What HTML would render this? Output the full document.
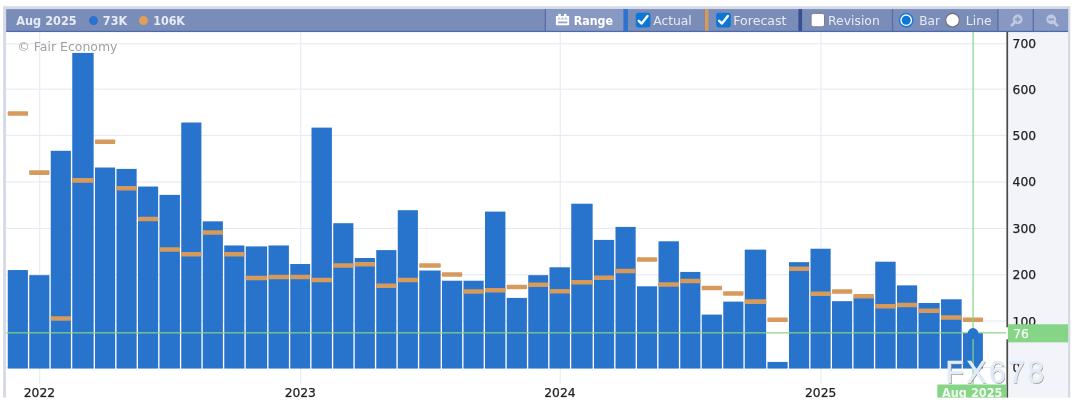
<!DOCTYPE html>
<html lang="en"><head><meta charset="utf-8"><title>Non-Farm Employment Change chart</title>
<style>html,body{margin:0;padding:0;background:#fff;}body{width:1075px;height:408px;overflow:hidden;position:relative;}svg{position:absolute;left:0;top:0;display:block;}text{font-family:"DejaVu Sans", "Liberation Sans", sans-serif;font-size:12px;}.b{font-weight:bold;}.ax{font-size:12.3px;stroke:#222;stroke-width:0.25px;}.wm{font-family:"Liberation Sans",sans-serif;font-size:30px;letter-spacing:2.55px;}</style></head><body>
<svg width="1075" height="408" viewBox="0 0 1075 408">
<rect x="3.1" y="6.2" width="1067.2" height="395" fill="#d6dae7"/>
<rect x="6.1" y="9.5" width="1001" height="392" fill="#ffffff"/>
<rect x="1007.5" y="31" width="60.5" height="370" fill="#f3f4f9"/>
<rect x="6.1" y="43.25" width="1000.4" height="1.1" fill="#e7eaf4"/>
<rect x="6.1" y="88.55" width="1000.4" height="1.1" fill="#e7eaf4"/>
<rect x="6.1" y="134.85" width="1000.4" height="1.1" fill="#e7eaf4"/>
<rect x="6.1" y="181.40" width="1000.4" height="1.1" fill="#e7eaf4"/>
<rect x="6.1" y="227.85" width="1000.4" height="1.1" fill="#e7eaf4"/>
<rect x="6.1" y="274.15" width="1000.4" height="1.1" fill="#e7eaf4"/>
<rect x="6.1" y="320.45" width="1000.4" height="1.1" fill="#e7eaf4"/>
<rect x="6.1" y="367.05" width="1000.4" height="1.1" fill="#e7eaf4"/>
<rect x="39.15" y="31.5" width="1.1" height="352.5" fill="#e7eaf4"/>
<rect x="300.20" y="31.5" width="1.1" height="352.5" fill="#e7eaf4"/>
<rect x="559.70" y="31.5" width="1.1" height="352.5" fill="#e7eaf4"/>
<rect x="820.45" y="31.5" width="1.1" height="352.5" fill="#e7eaf4"/>
<text x="17.3" y="51.3" fill="#a0a0a0" textLength="100.2" lengthAdjust="spacingAndGlyphs">© Fair Economy</text>
<rect x="7.75" y="270.06" width="20.15" height="98.49" fill="#2873cc"/>
<rect x="29.25" y="275.16" width="20.15" height="93.39" fill="#2873cc"/>
<rect x="50.75" y="150.81" width="20.15" height="217.74" fill="#2873cc"/>
<rect x="72.25" y="52.91" width="21.40" height="315.64" fill="#2873cc"/>
<rect x="95.00" y="167.52" width="20.15" height="201.03" fill="#2873cc"/>
<rect x="116.50" y="168.91" width="20.15" height="199.64" fill="#2873cc"/>
<rect x="138.00" y="186.54" width="20.15" height="182.01" fill="#2873cc"/>
<rect x="159.50" y="194.89" width="20.40" height="173.66" fill="#2873cc"/>
<rect x="181.25" y="122.51" width="20.15" height="246.04" fill="#2873cc"/>
<rect x="202.75" y="221.34" width="20.15" height="147.21" fill="#2873cc"/>
<rect x="224.25" y="245.47" width="20.15" height="123.08" fill="#2873cc"/>
<rect x="245.75" y="246.40" width="21.40" height="122.15" fill="#2873cc"/>
<rect x="268.50" y="245.47" width="20.40" height="123.08" fill="#2873cc"/>
<rect x="290.25" y="264.03" width="19.90" height="104.52" fill="#2873cc"/>
<rect x="311.50" y="127.61" width="20.40" height="240.94" fill="#2873cc"/>
<rect x="333.25" y="223.20" width="20.15" height="145.35" fill="#2873cc"/>
<rect x="354.75" y="258.00" width="20.15" height="110.55" fill="#2873cc"/>
<rect x="376.25" y="250.11" width="20.15" height="118.44" fill="#2873cc"/>
<rect x="397.75" y="210.20" width="20.15" height="158.35" fill="#2873cc"/>
<rect x="419.25" y="270.52" width="21.40" height="98.03" fill="#2873cc"/>
<rect x="442.00" y="280.73" width="20.15" height="87.82" fill="#2873cc"/>
<rect x="463.50" y="280.73" width="20.15" height="87.82" fill="#2873cc"/>
<rect x="485.00" y="211.60" width="20.40" height="156.95" fill="#2873cc"/>
<rect x="506.75" y="297.90" width="20.15" height="70.65" fill="#2873cc"/>
<rect x="528.25" y="275.16" width="19.90" height="93.39" fill="#2873cc"/>
<rect x="549.50" y="267.28" width="20.40" height="101.27" fill="#2873cc"/>
<rect x="571.25" y="203.71" width="21.40" height="164.84" fill="#2873cc"/>
<rect x="594.00" y="239.90" width="20.15" height="128.65" fill="#2873cc"/>
<rect x="615.50" y="226.91" width="20.15" height="141.64" fill="#2873cc"/>
<rect x="637.00" y="286.30" width="20.15" height="82.25" fill="#2873cc"/>
<rect x="658.50" y="241.29" width="20.40" height="127.26" fill="#2873cc"/>
<rect x="680.25" y="271.92" width="20.15" height="96.63" fill="#2873cc"/>
<rect x="701.75" y="314.60" width="20.15" height="53.95" fill="#2873cc"/>
<rect x="723.25" y="301.61" width="20.15" height="66.94" fill="#2873cc"/>
<rect x="744.75" y="249.64" width="21.40" height="118.91" fill="#2873cc"/>
<rect x="767.50" y="361.93" width="20.15" height="6.62" fill="#2873cc"/>
<rect x="789.00" y="262.17" width="20.15" height="106.38" fill="#2873cc"/>
<rect x="810.50" y="248.72" width="20.15" height="119.83" fill="#2873cc"/>
<rect x="832.00" y="301.15" width="20.15" height="67.40" fill="#2873cc"/>
<rect x="853.50" y="297.44" width="20.40" height="71.11" fill="#2873cc"/>
<rect x="875.25" y="261.71" width="20.40" height="106.84" fill="#2873cc"/>
<rect x="897.00" y="285.37" width="20.15" height="83.18" fill="#2873cc"/>
<rect x="918.50" y="303.00" width="21.15" height="65.55" fill="#2873cc"/>
<rect x="941.00" y="299.29" width="20.65" height="69.26" fill="#2873cc"/>
<rect x="963.00" y="333.00" width="19.90" height="35.55" fill="#2873cc"/>
<rect x="7.65" y="111.20" width="20.35" height="4.6" rx="0.8" fill="#d69a5c"/>
<rect x="29.15" y="170.30" width="20.35" height="4.6" rx="0.8" fill="#d69a5c"/>
<rect x="50.65" y="316.25" width="20.35" height="4.6" rx="0.8" fill="#d69a5c"/>
<rect x="72.15" y="178.10" width="21.60" height="4.6" rx="0.8" fill="#d69a5c"/>
<rect x="94.90" y="139.50" width="20.35" height="4.6" rx="0.8" fill="#d69a5c"/>
<rect x="116.40" y="186.00" width="20.35" height="4.6" rx="0.8" fill="#d69a5c"/>
<rect x="137.90" y="216.75" width="20.35" height="4.6" rx="0.8" fill="#d69a5c"/>
<rect x="159.40" y="247.25" width="20.60" height="4.6" rx="0.8" fill="#d69a5c"/>
<rect x="181.15" y="252.00" width="20.35" height="4.6" rx="0.8" fill="#d69a5c"/>
<rect x="202.65" y="230.25" width="20.35" height="4.6" rx="0.8" fill="#d69a5c"/>
<rect x="224.15" y="252.00" width="20.35" height="4.6" rx="0.8" fill="#d69a5c"/>
<rect x="245.65" y="275.75" width="21.60" height="4.6" rx="0.8" fill="#d69a5c"/>
<rect x="268.40" y="274.75" width="20.60" height="4.6" rx="0.8" fill="#d69a5c"/>
<rect x="290.15" y="274.75" width="20.10" height="4.6" rx="0.8" fill="#d69a5c"/>
<rect x="311.40" y="277.75" width="20.60" height="4.6" rx="0.8" fill="#d69a5c"/>
<rect x="333.15" y="263.25" width="20.35" height="4.6" rx="0.8" fill="#d69a5c"/>
<rect x="354.65" y="262.00" width="20.35" height="4.6" rx="0.8" fill="#d69a5c"/>
<rect x="376.15" y="283.50" width="20.35" height="4.6" rx="0.8" fill="#d69a5c"/>
<rect x="397.65" y="277.75" width="20.35" height="4.6" rx="0.8" fill="#d69a5c"/>
<rect x="419.15" y="263.25" width="21.60" height="4.6" rx="0.8" fill="#d69a5c"/>
<rect x="441.90" y="272.25" width="20.35" height="4.6" rx="0.8" fill="#d69a5c"/>
<rect x="463.40" y="289.25" width="20.35" height="4.6" rx="0.8" fill="#d69a5c"/>
<rect x="484.90" y="288.00" width="20.60" height="4.6" rx="0.8" fill="#d69a5c"/>
<rect x="506.65" y="284.75" width="20.35" height="4.6" rx="0.8" fill="#d69a5c"/>
<rect x="528.15" y="282.40" width="20.10" height="4.6" rx="0.8" fill="#d69a5c"/>
<rect x="549.40" y="289.00" width="20.60" height="4.6" rx="0.8" fill="#d69a5c"/>
<rect x="571.15" y="280.00" width="21.60" height="4.6" rx="0.8" fill="#d69a5c"/>
<rect x="593.90" y="275.50" width="20.35" height="4.6" rx="0.8" fill="#d69a5c"/>
<rect x="615.40" y="268.75" width="20.35" height="4.6" rx="0.8" fill="#d69a5c"/>
<rect x="636.90" y="257.25" width="20.35" height="4.6" rx="0.8" fill="#d69a5c"/>
<rect x="658.40" y="282.25" width="20.60" height="4.6" rx="0.8" fill="#d69a5c"/>
<rect x="680.15" y="278.75" width="20.35" height="4.6" rx="0.8" fill="#d69a5c"/>
<rect x="701.65" y="285.75" width="20.35" height="4.6" rx="0.8" fill="#d69a5c"/>
<rect x="723.15" y="291.25" width="20.35" height="4.6" rx="0.8" fill="#d69a5c"/>
<rect x="744.65" y="299.30" width="21.60" height="4.6" rx="0.8" fill="#d69a5c"/>
<rect x="767.40" y="317.50" width="20.35" height="4.6" rx="0.8" fill="#d69a5c"/>
<rect x="788.90" y="266.50" width="20.35" height="4.6" rx="0.8" fill="#d69a5c"/>
<rect x="810.40" y="291.50" width="20.35" height="4.6" rx="0.8" fill="#d69a5c"/>
<rect x="831.90" y="289.25" width="20.35" height="4.6" rx="0.8" fill="#d69a5c"/>
<rect x="853.40" y="294.00" width="20.60" height="4.6" rx="0.8" fill="#d69a5c"/>
<rect x="875.15" y="304.00" width="20.60" height="4.6" rx="0.8" fill="#d69a5c"/>
<rect x="896.90" y="302.75" width="20.35" height="4.6" rx="0.8" fill="#d69a5c"/>
<rect x="918.40" y="308.50" width="21.35" height="4.6" rx="0.8" fill="#d69a5c"/>
<rect x="940.90" y="315.25" width="20.85" height="4.6" rx="0.8" fill="#d69a5c"/>
<rect x="962.90" y="317.50" width="20.10" height="4.6" rx="0.8" fill="#d69a5c"/>
<rect x="6.1" y="332.05" width="1001" height="1.5" fill="#87d487" opacity="0.8"/>
<rect x="972.35" y="31.8" width="1.5" height="369" fill="#87d487" opacity="0.8"/>
<circle cx="973.00" cy="333.5" r="5.45" fill="#2873cc"/>
<rect x="1006.4" y="31.5" width="1.7" height="369" fill="#4a4a4a"/>
<text class="ax" x="1012.6" y="48.30" fill="#222">700</text>
<text class="ax" x="1012.6" y="93.60" fill="#222">600</text>
<text class="ax" x="1012.6" y="139.90" fill="#222">500</text>
<text class="ax" x="1012.6" y="186.45" fill="#222">400</text>
<text class="ax" x="1012.6" y="232.90" fill="#222">300</text>
<text class="ax" x="1012.6" y="279.20" fill="#222">200</text>
<text class="ax" x="1012.6" y="325.50" fill="#222">100</text>
<text class="ax" x="1012.6" y="372.10" fill="#222">0</text>
<text class="ax" x="39.40" y="396.7" text-anchor="middle" fill="#222">2022</text>
<text class="ax" x="300.30" y="396.7" text-anchor="middle" fill="#222">2023</text>
<text class="ax" x="559.90" y="396.7" text-anchor="middle" fill="#222">2024</text>
<text class="ax" x="820.70" y="396.7" text-anchor="middle" fill="#222">2025</text>
<rect x="1006" y="327.3" width="2.4" height="12" fill="#ffffff"/>
<rect x="1007.9" y="324.25" width="60.2" height="18.05" fill="#86d586"/>
<text class="ax" x="1013.3" y="337.8" fill="#f4fcf4" style="stroke:#f4fcf4">76</text>
<rect x="937.3" y="384.5" width="69.2" height="16" fill="#86d586"/>
<text class="b" x="942" y="396.6" fill="#f2fbf2" textLength="60.4" lengthAdjust="spacingAndGlyphs">Aug 2025</text>
<rect x="6.1" y="9.1" width="1062" height="22" fill="#7a8cb8"/>
<rect x="545.5" y="9.1" width="78" height="22" fill="#8799c3"/>
<rect x="998" y="9.1" width="70" height="22" fill="#8799c3"/>
<rect x="544.70" y="9.1" width="1.3" height="22" fill="#566ea8"/>
<rect x="891.85" y="9.1" width="1.3" height="22" fill="#566ea8"/>
<rect x="997.25" y="9.1" width="1.3" height="22" fill="#566ea8"/>
<rect x="1032.65" y="9.1" width="1.3" height="22" fill="#566ea8"/>
<rect x="704.2" y="9.1" width="0.8" height="22" fill="#6a7fb0"/>
<rect x="623.5" y="9.1" width="4.4" height="22" fill="#2a73cf"/>
<rect x="704.8" y="9.1" width="3.6" height="22" fill="#d99b5b"/>
<rect x="798.4" y="9.1" width="3.7" height="22" fill="#35518f"/>
<rect x="6.1" y="30.8" width="1062" height="1.25" fill="#4b6bb0"/>
<text class="b" x="16.3" y="25" fill="#e6ebf5" textLength="60.4" lengthAdjust="spacingAndGlyphs">Aug 2025</text>
<circle cx="93.5" cy="20.6" r="4.5" fill="#2873d0"/>
<text class="b" x="102.8" y="25" fill="#e6ebf5" textLength="24.4" lengthAdjust="spacingAndGlyphs">73K</text>
<circle cx="143.5" cy="20.6" r="4.5" fill="#dfa05c"/>
<text class="b" x="153.2" y="25" fill="#e6ebf5" textLength="31.8" lengthAdjust="spacingAndGlyphs">106K</text>
<g fill="#ffffff"><rect x="558.2" y="13.9" width="2.6" height="3"/><rect x="563.9" y="13.9" width="2.6" height="3"/><rect x="555.9" y="15.9" width="13.2" height="9.3" rx="0.6"/></g>
<g fill="#8799c3"><rect x="558" y="21.5" width="9.3" height="1.8" opacity="0.9"/><rect x="556.9" y="19.4" width="11.2" height="0.6" opacity="0.45"/><rect x="558.2" y="17.6" width="2" height="1.3" opacity="0.7"/><rect x="561.5" y="17.6" width="2" height="1.3" opacity="0.7"/><rect x="564.8" y="17.6" width="2" height="1.3" opacity="0.7"/></g>
<text class="b" x="573.8" y="25" fill="#ffffff" textLength="39.2" lengthAdjust="spacingAndGlyphs">Range</text>
<rect x="635.80" y="12.8" width="14.6" height="14.6" rx="2.4" fill="#0c76d6"/>
<path d="M638.70 20.8l2.9 2.7l5.9-7.5" fill="none" stroke="#ffffff" stroke-width="2.4" stroke-linecap="round" stroke-linejoin="round"/>
<rect x="716.20" y="12.8" width="14.6" height="14.6" rx="2.4" fill="#0c76d6"/>
<path d="M719.10 20.8l2.9 2.7l5.9-7.5" fill="none" stroke="#ffffff" stroke-width="2.4" stroke-linecap="round" stroke-linejoin="round"/>
<text x="653.2" y="25" fill="#e6ebf5" textLength="38.6" lengthAdjust="spacingAndGlyphs">Actual</text>
<text x="733.3" y="25" fill="#e6ebf5" textLength="53.2" lengthAdjust="spacingAndGlyphs">Forecast</text>
<rect x="811.1" y="13.4" width="13.4" height="13.4" rx="2.2" fill="#ffffff" stroke="#7d7d86" stroke-width="1"/>
<text x="828" y="25" fill="#e6ebf5" textLength="51.8" lengthAdjust="spacingAndGlyphs">Revision</text>
<circle cx="906.2" cy="20.2" r="6.7" fill="#ffffff" stroke="#1a7bd8" stroke-width="1.6"/><circle cx="906.2" cy="20.2" r="4.5" fill="#0c76d6"/>
<text x="919.2" y="25" fill="#e6ebf5" textLength="20.8" lengthAdjust="spacingAndGlyphs">Bar</text>
<circle cx="952.5" cy="20.2" r="6.8" fill="#ffffff" stroke="#6c6c74" stroke-width="1.1"/>
<text x="965.8" y="25" fill="#e6ebf5" textLength="25.8" lengthAdjust="spacingAndGlyphs">Line</text>
<g><circle cx="1017.7" cy="19.4" r="4.9" fill="#bfc9e1"/><path d="M1014.4 22.7l-2.7 2.7" stroke="#bfc9e1" stroke-width="2.7" stroke-linecap="round"/><path d="M1015 19.4h5.4M1017.7 16.7v5.4" stroke="#8799c3" stroke-width="1.7" fill="none"/></g>
<g><circle cx="1051.2" cy="19.4" r="4.9" fill="#bfc9e1"/><path d="M1054.5 22.7l2.7 2.7" stroke="#bfc9e1" stroke-width="2.7" stroke-linecap="round"/><path d="M1048.4 19.4h5.6" stroke="#8799c3" stroke-width="1.8" fill="none"/></g>
<g transform="translate(945.6,383.2) scale(1,1.04)"><text class="wm" x="0.8" y="0.7" fill="#9c8474" opacity="0.85">FX678</text><text class="wm" x="0" y="0" fill="#e1ecfa" stroke="#e1ecfa" stroke-width="0.6">FX678</text></g>
<rect x="0" y="397.6" width="1075" height="11" fill="#ffffff"/>
</svg>
</body></html>
